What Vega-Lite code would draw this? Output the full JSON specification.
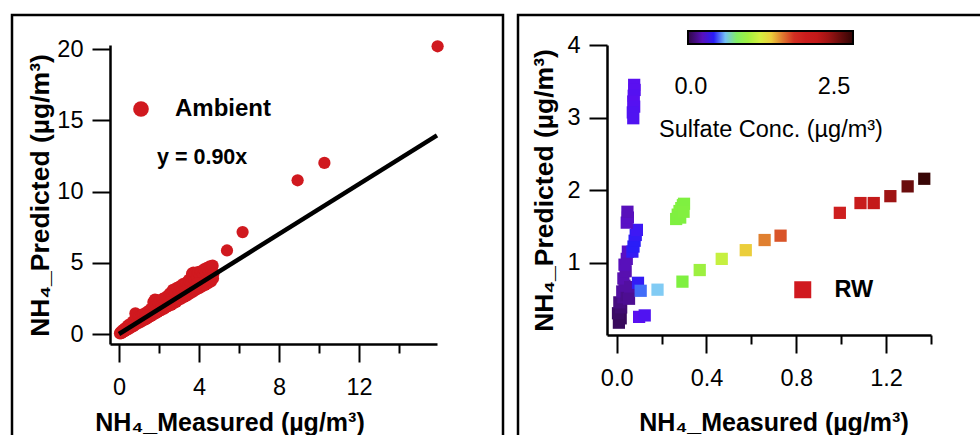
{
  "$schema": "https://vega.github.io/schema/vega-lite/v6.json",
  "background": "white",
  "padding": {"left": 10, "top": 13, "right": 0, "bottom": 0},
  "spacing": 11,
  "config": {
    "font": "Liberation Sans",
    "view": {"stroke": "black", "strokeWidth": 2.5},
    "axis": {
      "grid": false, "domainColor": "black", "domainWidth": 2.5, "tickColor": "black", "tickWidth": 2,
      "labelColor": "black", "labelFont": "Liberation Sans", "labelFontSize": 23.5,
      "titleFont": "Liberation Sans", "titleFontSize": 25, "titleFontWeight": "bold", "titleColor": "black",
      "labelFlush": false, "labelOverlap": false, "titleAlign": "center", "titleBaseline": "alphabetic", "titleLimit": 500
    },
    "legend": {"labelFont": "Liberation Sans", "titleFont": "Liberation Sans", "labelColor": "black", "titleColor": "black", "titleLimit": 500}
  },
  "datasets": {
    "ambient": [
      {"measured":0.05,"predicted":0.05,"source":"Ambient"},{"measured":0.08,"predicted":0.12,"source":"Ambient"},{"measured":0.12,"predicted":0.06,"source":"Ambient"},{"measured":0.15,"predicted":0.2,"source":"Ambient"},{"measured":0.2,"predicted":0.14,"source":"Ambient"},{"measured":0.22,"predicted":0.3,"source":"Ambient"},{"measured":0.28,"predicted":0.2,"source":"Ambient"},{"measured":0.3,"predicted":0.4,"source":"Ambient"},{"measured":0.35,"predicted":0.27,"source":"Ambient"},{"measured":0.4,"predicted":0.47,"source":"Ambient"},{"measured":0.42,"predicted":0.32,"source":"Ambient"},{"measured":0.45,"predicted":0.6,"source":"Ambient"},{"measured":0.5,"predicted":0.38,"source":"Ambient"},{"measured":0.52,"predicted":0.55,"source":"Ambient"},{"measured":0.58,"predicted":0.72,"source":"Ambient"},{"measured":0.6,"predicted":0.46,"source":"Ambient"},{"measured":0.65,"predicted":0.62,"source":"Ambient"},{"measured":0.7,"predicted":0.88,"source":"Ambient"},{"measured":0.72,"predicted":0.55,"source":"Ambient"},{"measured":0.78,"predicted":0.98,"source":"Ambient"},{"measured":0.8,"predicted":0.66,"source":"Ambient"},{"measured":0.82,"predicted":1.45,"source":"Ambient"},{"measured":0.85,"predicted":1.12,"source":"Ambient"},{"measured":0.9,"predicted":0.72,"source":"Ambient"},{"measured":0.92,"predicted":1.35,"source":"Ambient"},{"measured":0.95,"predicted":1.0,"source":"Ambient"},{"measured":1.0,"predicted":0.8,"source":"Ambient"},{"measured":1.02,"predicted":1.22,"source":"Ambient"},{"measured":1.08,"predicted":1.1,"source":"Ambient"},{"measured":1.1,"predicted":0.86,"source":"Ambient"},{"measured":1.15,"predicted":1.32,"source":"Ambient"},{"measured":1.2,"predicted":0.95,"source":"Ambient"},{"measured":1.22,"predicted":1.4,"source":"Ambient"},{"measured":1.3,"predicted":1.2,"source":"Ambient"},{"measured":1.32,"predicted":1.03,"source":"Ambient"},{"measured":1.38,"predicted":1.52,"source":"Ambient"},{"measured":1.42,"predicted":1.12,"source":"Ambient"},{"measured":1.48,"predicted":1.62,"source":"Ambient"},{"measured":1.5,"predicted":1.2,"source":"Ambient"},{"measured":1.55,"predicted":1.5,"source":"Ambient"},{"measured":1.6,"predicted":1.27,"source":"Ambient"},{"measured":1.62,"predicted":1.78,"source":"Ambient"},{"measured":1.7,"predicted":1.36,"source":"Ambient"},{"measured":1.72,"predicted":2.25,"source":"Ambient"},{"measured":1.75,"predicted":1.92,"source":"Ambient"},{"measured":1.8,"predicted":2.42,"source":"Ambient"},{"measured":1.82,"predicted":1.45,"source":"Ambient"},{"measured":1.85,"predicted":2.08,"source":"Ambient"},{"measured":1.9,"predicted":2.38,"source":"Ambient"},{"measured":1.92,"predicted":1.53,"source":"Ambient"},{"measured":1.98,"predicted":2.18,"source":"Ambient"},{"measured":2.0,"predicted":1.62,"source":"Ambient"},{"measured":2.05,"predicted":2.33,"source":"Ambient"},{"measured":2.1,"predicted":1.68,"source":"Ambient"},{"measured":2.15,"predicted":2.05,"source":"Ambient"},{"measured":2.2,"predicted":2.48,"source":"Ambient"},{"measured":2.25,"predicted":1.78,"source":"Ambient"},{"measured":2.3,"predicted":2.3,"source":"Ambient"},{"measured":2.35,"predicted":1.88,"source":"Ambient"},{"measured":2.4,"predicted":2.65,"source":"Ambient"},{"measured":2.45,"predicted":1.96,"source":"Ambient"},{"measured":2.5,"predicted":2.45,"source":"Ambient"},{"measured":2.55,"predicted":2.85,"source":"Ambient"},{"measured":2.6,"predicted":2.05,"source":"Ambient"},{"measured":2.65,"predicted":2.65,"source":"Ambient"},{"measured":2.7,"predicted":3.1,"source":"Ambient"},{"measured":2.72,"predicted":2.15,"source":"Ambient"},{"measured":2.8,"predicted":2.85,"source":"Ambient"},{"measured":2.85,"predicted":2.26,"source":"Ambient"},{"measured":2.9,"predicted":3.25,"source":"Ambient"},{"measured":2.95,"predicted":2.38,"source":"Ambient"},{"measured":3.0,"predicted":2.95,"source":"Ambient"},{"measured":3.05,"predicted":3.35,"source":"Ambient"},{"measured":3.1,"predicted":2.48,"source":"Ambient"},{"measured":3.15,"predicted":3.1,"source":"Ambient"},{"measured":3.2,"predicted":3.5,"source":"Ambient"},{"measured":3.25,"predicted":2.6,"source":"Ambient"},{"measured":3.3,"predicted":3.3,"source":"Ambient"},{"measured":3.35,"predicted":3.6,"source":"Ambient"},{"measured":3.4,"predicted":2.72,"source":"Ambient"},{"measured":3.45,"predicted":3.4,"source":"Ambient"},{"measured":3.5,"predicted":3.8,"source":"Ambient"},{"measured":3.55,"predicted":2.85,"source":"Ambient"},{"measured":3.6,"predicted":3.55,"source":"Ambient"},{"measured":3.65,"predicted":4.22,"source":"Ambient"},{"measured":3.7,"predicted":2.98,"source":"Ambient"},{"measured":3.72,"predicted":4.32,"source":"Ambient"},{"measured":3.78,"predicted":3.8,"source":"Ambient"},{"measured":3.8,"predicted":4.25,"source":"Ambient"},{"measured":3.85,"predicted":3.12,"source":"Ambient"},{"measured":3.9,"predicted":4.0,"source":"Ambient"},{"measured":3.95,"predicted":4.35,"source":"Ambient"},{"measured":4.0,"predicted":3.22,"source":"Ambient"},{"measured":4.05,"predicted":4.1,"source":"Ambient"},{"measured":4.1,"predicted":4.4,"source":"Ambient"},{"measured":4.15,"predicted":3.35,"source":"Ambient"},{"measured":4.2,"predicted":4.2,"source":"Ambient"},{"measured":4.25,"predicted":4.55,"source":"Ambient"},{"measured":4.3,"predicted":3.45,"source":"Ambient"},{"measured":4.35,"predicted":4.3,"source":"Ambient"},{"measured":4.4,"predicted":4.65,"source":"Ambient"},{"measured":4.45,"predicted":3.58,"source":"Ambient"},{"measured":4.5,"predicted":4.4,"source":"Ambient"},{"measured":4.55,"predicted":4.75,"source":"Ambient"},{"measured":4.6,"predicted":3.7,"source":"Ambient"},{"measured":4.62,"predicted":4.55,"source":"Ambient"},{"measured":4.68,"predicted":4.8,"source":"Ambient"},{"measured":4.7,"predicted":3.9,"source":"Ambient"},{"measured":4.72,"predicted":4.25,"source":"Ambient"},{"measured":3.3,"predicted":3.0,"source":"Ambient"},{"measured":3.9,"predicted":3.55,"source":"Ambient"},{"measured":2.5,"predicted":2.2,"source":"Ambient"},{"measured":1.4,"predicted":1.3,"source":"Ambient"},
      {"measured":5.4,"predicted":5.87,"source":"Ambient"},{"measured":6.18,"predicted":7.16,"source":"Ambient"},{"measured":8.93,"predicted":10.8,"source":"Ambient"},{"measured":10.27,"predicted":12.02,"source":"Ambient"},{"measured":15.93,"predicted":20.21,"source":"Ambient"}
    ],
    "fit": [
      {"measured":0.0,"predicted":0.0},{"measured":15.9,"predicted":13.95}
    ],
    "rw": [
      {"measured":0.078,"predicted":3.45,"sulfate":0.3,"source":"RW"},{"measured":0.08,"predicted":3.38,"sulfate":0.3,"source":"RW"},{"measured":0.076,"predicted":3.3,"sulfate":0.31,"source":"RW"},{"measured":0.074,"predicted":3.22,"sulfate":0.3,"source":"RW"},{"measured":0.078,"predicted":3.15,"sulfate":0.31,"source":"RW"},{"measured":0.072,"predicted":3.07,"sulfate":0.32,"source":"RW"},{"measured":0.074,"predicted":2.99,"sulfate":0.32,"source":"RW"},
      {"measured":0.01,"predicted":0.17,"sulfate":0.0,"source":"RW"},{"measured":0.018,"predicted":0.23,"sulfate":0.0,"source":"RW"},{"measured":0.006,"predicted":0.3,"sulfate":0.02,"source":"RW"},{"measured":0.02,"predicted":0.38,"sulfate":0.05,"source":"RW"},{"measured":0.012,"predicted":0.45,"sulfate":0.08,"source":"RW"},{"measured":0.03,"predicted":0.52,"sulfate":0.12,"source":"RW"},{"measured":0.025,"predicted":0.6,"sulfate":0.15,"source":"RW"},{"measured":0.045,"predicted":0.55,"sulfate":0.1,"source":"RW"},{"measured":0.035,"predicted":0.68,"sulfate":0.15,"source":"RW"},{"measured":0.03,"predicted":0.78,"sulfate":0.18,"source":"RW"},{"measured":0.04,"predicted":0.88,"sulfate":0.18,"source":"RW"},{"measured":0.035,"predicted":0.97,"sulfate":0.2,"source":"RW"},{"measured":0.045,"predicted":1.05,"sulfate":0.2,"source":"RW"},{"measured":0.05,"predicted":1.15,"sulfate":0.22,"source":"RW"},{"measured":0.06,"predicted":0.66,"sulfate":0.15,"source":"RW"},{"measured":0.055,"predicted":0.5,"sulfate":0.12,"source":"RW"},
      {"measured":0.07,"predicted":1.15,"sulfate":0.38,"source":"RW"},{"measured":0.075,"predicted":1.22,"sulfate":0.4,"source":"RW"},{"measured":0.08,"predicted":1.3,"sulfate":0.4,"source":"RW"},{"measured":0.085,"predicted":1.38,"sulfate":0.38,"source":"RW"},{"measured":0.09,"predicted":1.45,"sulfate":0.36,"source":"RW"},
      {"measured":0.045,"predicted":1.55,"sulfate":0.22,"source":"RW"},{"measured":0.05,"predicted":1.62,"sulfate":0.22,"source":"RW"},{"measured":0.048,"predicted":1.7,"sulfate":0.2,"source":"RW"},
      {"measured":0.095,"predicted":0.72,"sulfate":0.38,"source":"RW"},{"measured":0.107,"predicted":0.61,"sulfate":0.5,"source":"RW"},{"measured":0.1,"predicted":0.25,"sulfate":0.3,"source":"RW"},{"measured":0.125,"predicted":0.27,"sulfate":0.32,"source":"RW"},
      {"measured":0.265,"predicted":1.6,"sulfate":0.86,"source":"RW"},{"measured":0.272,"predicted":1.66,"sulfate":0.86,"source":"RW"},{"measured":0.28,"predicted":1.71,"sulfate":0.87,"source":"RW"},{"measured":0.288,"predicted":1.75,"sulfate":0.87,"source":"RW"},{"measured":0.295,"predicted":1.79,"sulfate":0.86,"source":"RW"},{"measured":0.3,"predicted":1.81,"sulfate":0.86,"source":"RW"},{"measured":0.283,"predicted":1.62,"sulfate":0.86,"source":"RW"},{"measured":0.298,"predicted":1.7,"sulfate":0.87,"source":"RW"},
      {"measured":0.182,"predicted":0.625,"sulfate":0.62,"source":"RW"},{"measured":0.293,"predicted":0.736,"sulfate":0.86,"source":"RW"},{"measured":0.37,"predicted":0.896,"sulfate":0.98,"source":"RW"},{"measured":0.468,"predicted":1.05,"sulfate":1.15,"source":"RW"},{"measured":0.575,"predicted":1.17,"sulfate":1.4,"source":"RW"},{"measured":0.659,"predicted":1.31,"sulfate":1.58,"source":"RW"},{"measured":0.73,"predicted":1.37,"sulfate":1.7,"source":"RW"},{"measured":0.994,"predicted":1.685,"sulfate":1.9,"source":"RW"},{"measured":1.086,"predicted":1.82,"sulfate":2.05,"source":"RW"},{"measured":1.145,"predicted":1.82,"sulfate":2.15,"source":"RW"},{"measured":1.219,"predicted":1.915,"sulfate":2.4,"source":"RW"},{"measured":1.296,"predicted":2.05,"sulfate":2.6,"source":"RW"},{"measured":1.37,"predicted":2.155,"sulfate":2.8,"source":"RW"}
    ]
  },
  "resolve": {"scale": {"color": "independent", "shape": "independent"}, "legend": {"color": "independent", "shape": "independent"}},
  "hconcat": [
    {
      "width": 491, "height": 422,
      "resolve": {"axis": {"x": "independent"}},
      "layer": [
        {
          "data": {"name": "ambient"},
          "mark": {"type": "point", "filled": true, "opacity": 1, "color": "#d0191f", "size": 150, "strokeWidth": 0},
          "encoding": {
            "x": {"field": "measured", "type": "quantitative",
              "scale": {"domain": [-0.45, 15.9], "range": [98, 425], "nice": false, "zero": false},
              "axis": {"orient": "bottom", "values": [0,4,8,12], "tickSize": 18,
                "labelPadding": 32, "labelBaseline": "alphabetic", "offset": -93,
                "title": "NH₄_Measured (µg/m³)", "titleX": 217.5, "titleY": 86}},
            "y": {"field": "predicted", "type": "quantitative",
              "scale": {"domain": [-0.7, 20.3], "range": [329, 30], "nice": false, "zero": false},
              "axis": {"values": [0,5,10,15,20], "tickSize": 18, "labelPadding": 9, "offset": -98,
                "title": "NH₄_Predicted (µg/m³)", "titleX": -62, "titleY": 180, "titleAngle": -90, "titleFontSize": 26.5}},
            "shape": {"field": "source", "type": "nominal", "scale": {"range": ["circle"]},
              "legend": {"orient": "none", "legendX": 117, "legendY": 82, "title": null, "symbolSize": 246,
                "symbolStrokeWidth": 0, "labelFontSize": 24, "labelFontWeight": "bold", "labelOffset": 22}}
          }
        },
        {
          "data": {"name": "fit"},
          "mark": {"type": "line", "color": "black", "strokeWidth": 4.5},
          "encoding": {
            "x": {"field": "measured", "type": "quantitative",
              "axis": {"orient": "bottom", "values": [2,6,10,14], "tickSize": 9, "labels": false, "domain": false,
                "offset": -93, "title": null}},
            "y": {"field": "predicted", "type": "quantitative"}
          }
        },
        {
          "data": {"values": [{"note": "y = 0.90x"}]},
          "mark": {"type": "text", "align": "left", "baseline": "middle", "fontSize": 21.5, "fontWeight": "bold", "color": "black"},
          "encoding": {
            "x": {"datum": 1.9, "type": "quantitative", "axis": null},
            "y": {"datum": 12.35, "type": "quantitative"},
            "text": {"field": "note"}
          }
        }
      ]
    },
    {
      "width": 468, "height": 422,
      "data": {"name": "rw"},
      "resolve": {"axis": {"x": "independent"}},
      "layer": [
        {
          "mark": {"type": "point", "filled": true, "opacity": 1, "size": 150, "strokeWidth": 0},
          "encoding": {
            "x": {"field": "measured", "type": "quantitative",
              "scale": {"domain": [-0.043, 1.4], "range": [89, 413], "nice": false, "zero": false},
              "axis": {"orient": "bottom", "values": [0, 0.4, 0.8, 1.2], "format": ".1f", "tickSize": 18,
                "labelPadding": 32, "labelBaseline": "alphabetic", "offset": -102,
                "title": "NH₄_Measured (µg/m³)", "titleX": 255.5, "titleY": 95}},
            "y": {"field": "predicted", "type": "quantitative",
              "scale": {"domain": [0, 4], "range": [320, 30], "nice": false, "zero": false},
              "axis": {"values": [1,2,3,4], "format": "d", "tickSize": 18, "labelPadding": 9, "offset": -89,
                "title": "NH₄_Predicted (µg/m³)", "titleX": -55, "titleY": 175, "titleAngle": -90, "titleFontSize": 26.5}},
            "color": {"field": "sulfate", "type": "quantitative",
              "scale": {"domain": [-0.05, 0.05, 0.18, 0.3, 0.42, 0.57, 0.68, 0.83, 1.32, 1.58, 1.84, 2.27, 2.83],
                "range": ["#300848", "#400c70", "#5810b0", "#5a10f0", "#2020f8", "#60b0f8", "#a8ecf0", "#78f040", "#f0f040", "#e08030", "#d02020", "#c01818", "#300505"],
                "interpolate": "rgb", "zero": false, "nice": false},
              "legend": {"orient": "none", "direction": "horizontal", "legendX": 141, "legendY": 16,
                "gradientLength": 165, "gradientThickness": 13, "gradientStrokeColor": "black", "gradientStrokeWidth": 2,
                "values": [0, 2.5], "format": ".1f", "labelFontSize": 23.5, "labelOffset": 31, "labelAlign": "center",
                "title": "Sulfate Conc. (µg/m³)", "titleOrient": "bottom", "titleAnchor": "middle",
                "titleFontSize": 23.5, "titleFontWeight": "normal", "titlePadding": 19}},
            "shape": {"field": "source", "type": "nominal", "scale": {"range": ["square"]},
              "legend": {"orient": "none", "legendX": 273, "legendY": 263, "title": null, "symbolSize": 289,
                "symbolFillColor": "#d0191f", "symbolStrokeWidth": 0, "labelFontSize": 23.5, "labelFontWeight": "bold", "labelOffset": 20}}
          }
        },
        {
          "mark": {"type": "point", "opacity": 0, "size": 1},
          "encoding": {
            "x": {"field": "measured", "type": "quantitative",
              "axis": {"orient": "bottom", "values": [0.2, 0.6, 1.0, 1.4], "tickSize": 9, "labels": false, "domain": false,
                "offset": -102, "title": null}},
            "y": {"field": "predicted", "type": "quantitative"}
          }
        }
      ]
    }
  ]
}
